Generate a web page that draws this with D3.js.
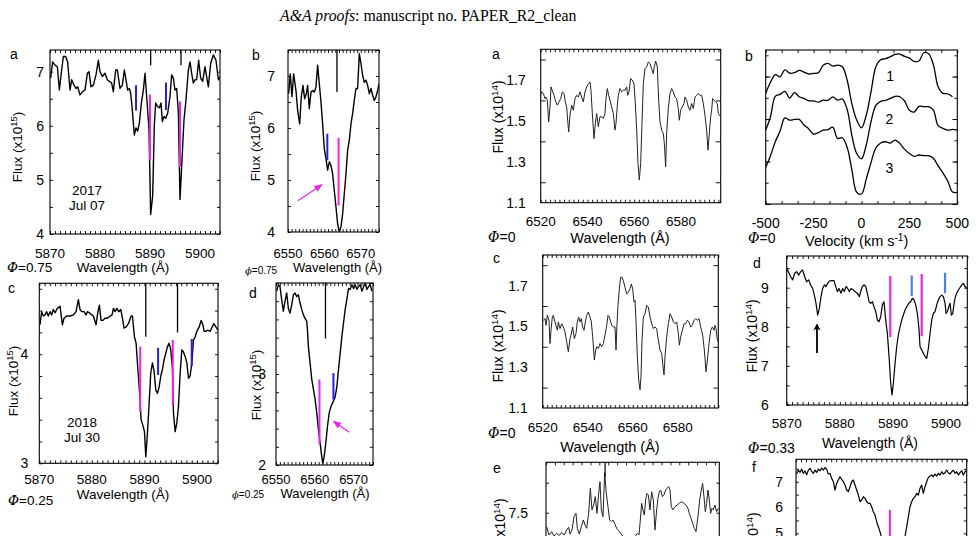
<!DOCTYPE html>
<html><head><meta charset="utf-8">
<script src="https://cdn.jsdelivr.net/npm/d3@7"></script>
<style>body{margin:0;background:#fff}svg{display:block}text{font-family:"Liberation Sans",Arial,sans-serif;fill:#000}</style>
</head><body>
<script>
// ---------------- DATA ----------------
// Left a: Na D, 2017 Jul 07 (wavelength A, flux x1e15)
const naD2017 = [[5870.13,6.88],[5870.53,7.18],[5871.0,7.12],[5871.47,7.09],[5871.87,6.66],[5872.33,7.03],[5872.67,7.28],[5873.13,7.28],[5873.53,7.18],[5874.0,6.66],[5874.33,6.85],[5874.8,6.75],[5875.2,6.69],[5875.53,6.72],[5876.0,6.57],[5876.53,6.63],[5877.0,6.66],[5877.47,6.97],[5877.8,7.0],[5878.2,6.72],[5878.67,6.75],[5879.2,6.94],[5879.67,7.21],[5880.0,7.0],[5880.47,6.91],[5881.0,6.97],[5881.47,6.85],[5881.87,6.82],[5882.33,6.79],[5882.67,6.63],[5883.13,7.03],[5883.47,7.03],[5884.0,6.69],[5884.47,6.75],[5884.87,7.03],[5885.2,6.85],[5885.53,6.66],[5885.87,6.69],[5886.13,6.6],[5886.4,6.36],[5886.87,5.83],[5887.2,5.96],[5887.53,5.9],[5887.87,6.05],[5888.27,6.42],[5888.67,6.66],[5889.0,6.97],[5889.33,6.54],[5889.8,5.93],[5890.13,4.36],[5890.53,4.7],[5890.87,6.02],[5891.13,6.42],[5891.47,6.36],[5891.87,6.33],[5892.2,6.42],[5892.47,6.08],[5892.8,6.17],[5893.13,6.14],[5893.53,6.23],[5894.0,6.54],[5894.33,6.94],[5894.67,6.88],[5895.0,6.66],[5895.33,6.69],[5895.67,6.26],[5896.0,4.64],[5896.4,5.37],[5896.8,6.11],[5897.2,6.48],[5897.67,7.03],[5898.0,7.18],[5898.33,6.97],[5898.67,6.79],[5899.0,6.85],[5899.33,6.85],[5899.73,7.21],[5900.13,6.88],[5900.53,6.82],[5901.0,7.09],[5901.67,6.72],[5902.13,7.15],[5902.67,7.31],[5903.2,7.21],[5903.67,6.85],[5904.0,6.9]];
// Left b: H-alpha 2017
const ha2017 = [[6550.17,6.66],[6550.63,7.04],[6551.09,6.6],[6551.55,7.04],[6552.19,6.72],[6552.65,6.34],[6553.2,6.08],[6553.65,6.6],[6554.11,6.82],[6554.57,6.56],[6555.03,6.66],[6555.39,6.82],[6555.85,6.37],[6556.31,6.69],[6556.77,6.72],[6557.23,6.69],[6557.68,6.79],[6558.14,7.21],[6558.6,6.85],[6559.06,6.5],[6559.51,6.08],[6559.97,5.6],[6560.43,5.41],[6560.89,5.19],[6561.35,5.35],[6561.8,5.28],[6562.26,5.12],[6562.72,4.8],[6563.18,4.48],[6563.64,4.15],[6564.09,4.0],[6564.55,4.1],[6565.01,4.35],[6565.47,4.74],[6565.93,5.12],[6566.38,5.57],[6566.84,5.76],[6567.3,6.08],[6567.76,6.28],[6568.21,6.53],[6568.67,6.76],[6569.13,6.76],[6569.59,7.43],[6570.05,7.24],[6570.5,7.01],[6570.96,6.88],[6571.42,6.92],[6571.88,6.82],[6572.34,6.66],[6572.79,6.76],[6573.25,6.63],[6573.71,6.53],[6574.17,6.6],[6574.62,6.72],[6575.0,6.85]];
// Left c: Na D, 2018 Jul 30
const naD2018 = [[5870.13,4.27],[5870.45,4.39],[5870.77,4.35],[5871.09,4.36],[5871.4,4.39],[5871.72,4.35],[5872.04,4.39],[5872.36,4.36],[5872.67,4.41],[5872.99,4.38],[5873.43,4.42],[5873.94,4.44],[5874.39,4.27],[5874.7,4.33],[5875.21,4.35],[5875.85,4.35],[5876.48,4.36],[5876.99,4.39],[5877.43,4.5],[5877.75,4.41],[5878.07,4.39],[5878.51,4.39],[5878.9,4.36],[5879.15,4.39],[5879.53,4.38],[5879.98,4.36],[5880.29,4.35],[5880.8,4.27],[5881.12,4.38],[5881.43,4.45],[5881.75,4.31],[5882.07,4.31],[5882.51,4.33],[5882.96,4.33],[5883.47,4.35],[5883.85,4.36],[5884.1,4.42],[5884.42,4.39],[5884.74,4.42],[5885.12,4.39],[5885.5,4.41],[5885.75,4.35],[5886.13,4.24],[5886.51,4.25],[5886.96,4.28],[5887.47,4.35],[5887.72,4.35],[5888.1,4.16],[5888.42,4.1],[5888.67,3.92],[5889.05,3.67],[5889.37,3.4],[5889.69,3.35],[5890.01,3.29],[5890.26,3.06],[5890.58,3.28],[5890.9,3.55],[5891.21,3.83],[5891.53,3.92],[5891.85,3.84],[5892.17,3.67],[5892.48,3.64],[5892.8,3.7],[5893.12,3.8],[5893.43,3.86],[5893.75,3.95],[5894.07,4.01],[5894.39,4.07],[5894.7,4.1],[5895.02,4.04],[5895.34,3.86],[5895.53,3.46],[5895.85,3.29],[5896.17,3.37],[5896.48,3.52],[5896.8,3.83],[5897.12,4.04],[5897.43,4.02],[5897.75,3.98],[5898.07,3.92],[5898.39,3.78],[5898.7,3.8],[5899.02,3.92],[5899.34,4.13],[5899.66,4.16],[5899.98,4.21],[5900.42,4.25],[5900.8,4.31],[5901.12,4.27],[5901.37,4.21],[5901.75,4.21],[5902.01,4.22],[5902.51,4.21],[5903.2,4.28],[5904.0,4.22]];
// Left d: H-alpha 2018
const ha2018 = [[6550.17,3.91],[6550.6,3.98],[6551.03,3.96],[6551.46,3.82],[6551.89,3.69],[6552.33,3.8],[6552.76,3.89],[6553.19,3.72],[6553.62,3.67],[6554.05,3.76],[6554.48,3.87],[6554.91,3.89],[6555.34,3.85],[6555.77,3.87],[6556.2,3.78],[6556.63,3.71],[6557.06,3.65],[6557.49,3.61],[6557.92,3.58],[6558.1,3.49],[6558.35,3.3],[6558.79,3.12],[6559.22,2.94],[6559.65,2.83],[6560.08,2.72],[6560.51,2.57],[6560.94,2.39],[6561.37,2.24],[6561.8,2.09],[6562.06,2.02],[6562.4,2.09],[6562.83,2.24],[6563.26,2.42],[6563.7,2.57],[6564.13,2.64],[6564.56,2.68],[6564.99,2.72],[6565.25,2.75],[6565.68,2.86],[6566.11,3.05],[6566.54,3.23],[6566.97,3.41],[6567.4,3.56],[6567.83,3.71],[6568.26,3.82],[6568.69,3.94],[6569.12,3.93],[6569.55,3.98],[6569.98,3.94],[6570.41,3.98],[6570.84,3.93],[6571.27,3.96],[6571.71,3.98],[6572.14,3.91],[6572.57,3.96],[6573.0,4.0],[6573.43,3.93],[6573.86,3.96],[6574.29,3.98],[6574.72,3.91]];
// Right a: H-alpha phase 0 (flux x1e14)
const haPhase0a = [[6520.0,1.625],[6520.4,1.642],[6521.13,1.634],[6521.84,1.609],[6522.27,1.617],[6522.84,1.601],[6523.41,1.495],[6523.98,1.568],[6524.41,1.666],[6525.12,1.642],[6525.69,1.625],[6526.4,1.593],[6527.11,1.577],[6527.83,1.593],[6528.54,1.609],[6529.25,1.642],[6529.97,1.634],[6530.54,1.593],[6531.11,1.568],[6531.54,1.503],[6531.96,1.446],[6532.53,1.528],[6533.25,1.577],[6533.96,1.552],[6534.67,1.609],[6535.38,1.625],[6536.1,1.617],[6536.81,1.642],[6537.52,1.617],[6538.23,1.593],[6538.95,1.642],[6539.66,1.666],[6540.37,1.682],[6541.09,1.69],[6541.51,1.65],[6542.08,1.536],[6542.8,1.414],[6543.37,1.487],[6543.94,1.536],[6544.65,1.471],[6545.36,1.52],[6546.08,1.52],[6546.79,1.512],[6547.5,1.536],[6547.93,1.609],[6548.5,1.658],[6549.07,1.625],[6549.64,1.601],[6550.35,1.568],[6551.07,1.536],[6551.78,1.455],[6552.21,1.487],[6552.78,1.577],[6553.2,1.625],[6553.92,1.658],[6554.63,1.642],[6555.34,1.65],[6556.06,1.65],[6556.77,1.666],[6557.2,1.625],[6557.77,1.642],[6558.48,1.707],[6559.19,1.699],[6559.91,1.682],[6560.48,1.585],[6561.05,1.455],[6561.62,1.292],[6562.19,1.211],[6562.76,1.292],[6563.33,1.487],[6563.9,1.682],[6564.61,1.755],[6565.32,1.764],[6566.04,1.788],[6566.75,1.78],[6567.46,1.755],[6568.17,1.731],[6568.6,1.764],[6569.17,1.793],[6569.88,1.764],[6570.46,1.601],[6571.03,1.495],[6571.74,1.455],[6572.45,1.438],[6572.88,1.39],[6573.45,1.276],[6573.88,1.438],[6574.59,1.56],[6575.3,1.634],[6576.02,1.658],[6576.73,1.642],[6577.44,1.617],[6578.16,1.609],[6578.87,1.56],[6579.29,1.503],[6579.87,1.552],[6580.58,1.568],[6581.29,1.585],[6581.72,1.617],[6582.43,1.601],[6583.14,1.568],[6583.86,1.552],[6584.57,1.585],[6585.28,1.56],[6586.0,1.617],[6586.71,1.625],[6587.42,1.634],[6588.14,1.625],[6588.85,1.625],[6589.56,1.585],[6590.27,1.528],[6590.99,1.455],[6591.56,1.357],[6592.13,1.438],[6592.7,1.52],[6593.13,1.552],[6593.55,1.609],[6594.12,1.601],[6594.84,1.593],[6595.55,1.585],[6595.98,1.536],[6596.4,1.528],[6597.0,1.52]];
// Right c: H-alpha phase 0, second spectrum
const haPhase0c = [[6520.28,1.53],[6521.02,1.538],[6521.47,1.505],[6522.06,1.554],[6522.8,1.53],[6523.24,1.416],[6523.69,1.481],[6524.28,1.546],[6524.72,1.554],[6525.46,1.522],[6525.91,1.505],[6526.5,1.481],[6526.94,1.522],[6527.69,1.489],[6528.43,1.513],[6529.17,1.497],[6529.91,1.473],[6530.65,1.424],[6531.39,1.376],[6532.13,1.44],[6532.57,1.457],[6533.31,1.497],[6534.05,1.44],[6534.79,1.465],[6535.38,1.522],[6535.98,1.546],[6536.57,1.522],[6537.16,1.538],[6537.76,1.497],[6538.35,1.481],[6538.94,1.522],[6539.53,1.554],[6540.27,1.57],[6541.01,1.546],[6541.6,1.522],[6542.2,1.449],[6542.94,1.335],[6543.53,1.384],[6543.98,1.4],[6544.71,1.392],[6545.46,1.416],[6546.2,1.4],[6546.93,1.416],[6547.68,1.457],[6548.42,1.505],[6549.01,1.554],[6549.6,1.546],[6550.2,1.522],[6550.79,1.505],[6551.38,1.497],[6552.12,1.497],[6552.56,1.384],[6553.01,1.513],[6553.45,1.603],[6554.04,1.684],[6554.64,1.741],[6555.23,1.741],[6555.82,1.724],[6556.56,1.692],[6557.3,1.659],[6558.04,1.668],[6558.78,1.684],[6559.37,1.708],[6559.97,1.684],[6560.56,1.619],[6561.0,1.627],[6561.45,1.522],[6562.04,1.351],[6562.63,1.238],[6563.23,1.189],[6563.67,1.254],[6564.11,1.432],[6564.71,1.546],[6565.45,1.562],[6566.19,1.603],[6566.93,1.595],[6567.67,1.546],[6568.41,1.513],[6569.15,1.489],[6569.89,1.497],[6570.63,1.489],[6571.37,1.432],[6572.11,1.384],[6572.85,1.368],[6573.3,1.319],[6573.89,1.262],[6574.33,1.351],[6575.07,1.449],[6575.81,1.513],[6576.55,1.562],[6577.29,1.546],[6578.03,1.522],[6578.77,1.513],[6579.52,1.522],[6580.25,1.465],[6580.7,1.408],[6581.29,1.449],[6582.03,1.481],[6582.77,1.513],[6583.51,1.513],[6584.25,1.53],[6584.99,1.522],[6585.74,1.497],[6586.47,1.505],[6587.21,1.53],[6587.96,1.538],[6588.69,1.53],[6589.44,1.538],[6590.18,1.497],[6591.07,1.457],[6591.8,1.384],[6592.55,1.278],[6593.14,1.335],[6593.88,1.416],[6594.62,1.481],[6595.36,1.497],[6596.1,1.481],[6596.54,1.505],[6596.99,1.489],[6597.58,1.432],[6598.0,1.424]];
// Right b: velocity profiles (km/s) and three offset normalized spectra
const velocity = [-500,-475,-450,-425,-400,-375,-350,-325,-300,-275,-250,-225,-200,-175,-150,-125,-100,-75,-50,-25,0,25,50,75,100,125,150,175,200,225,250,275,300,325,350,375,400,425,450,475,500];
const profile1 = [1.121,1.173,1.209,1.199,1.231,1.216,1.218,1.229,1.221,1.212,1.215,1.218,1.253,1.262,1.249,1.254,1.246,1.184,1.071,0.995,0.959,1.019,1.13,1.246,1.279,1.284,1.293,1.304,1.306,1.295,1.287,1.271,1.273,1.312,1.307,1.256,1.152,1.121,1.119,1.105,null];
const profile2 = [0.948,1.011,1.107,1.116,1.13,1.099,1.124,1.105,1.097,1.086,1.085,1.08,1.089,1.088,1.104,1.089,1.094,1.046,0.922,0.838,0.813,0.879,0.989,1.064,1.083,1.088,1.097,1.107,1.105,1.085,1.041,1.033,1.06,1.058,1.058,1.042,0.969,0.956,0.948,0.951,0.948];
const profile3 = [0.7725,0.8275,0.893,0.9435,1.005,0.995,0.998,0.998,0.972,0.953,0.929,0.936,0.948,0.95,0.962,0.909,0.912,0.867,0.76,0.655,0.647,0.718,0.796,0.8635,0.887,0.893,0.887,0.901,0.8855,0.857,0.838,0.824,0.8306,0.8275,0.8275,0.815,0.779,0.746,0.708,0.6565,0.655];
const profileLabels = ["1","2","3"];
const profileLabelPos = [[150,1.2],[145,1.0],[145,0.77]];
// Right d: Na D phase 0.33 (flux x1e14)
const naDPhase033 = [[5870.0,9.5],[5870.31,9.41],[5870.75,9.28],[5871.12,9.2],[5871.5,9.37],[5871.88,9.41],[5872.25,9.32],[5872.63,9.41],[5873.01,9.45],[5873.38,9.28],[5873.76,9.15],[5874.14,9.2],[5874.51,9.07],[5874.89,8.98],[5875.2,8.81],[5875.52,8.6],[5875.83,8.3],[5876.15,8.47],[5876.46,8.77],[5876.77,8.98],[5877.09,9.07],[5877.4,9.03],[5877.72,9.11],[5878.03,9.17],[5878.47,9.18],[5878.91,9.18],[5879.22,9.03],[5879.54,8.9],[5879.85,8.98],[5880.23,8.86],[5880.54,8.98],[5880.85,8.9],[5881.17,9.03],[5881.48,8.98],[5881.79,8.9],[5882.11,8.98],[5882.55,8.94],[5882.86,8.9],[5883.3,8.86],[5883.68,8.77],[5883.93,8.9],[5884.24,9.03],[5884.56,9.07],[5884.87,9.03],[5885.18,8.86],[5885.5,8.64],[5885.81,8.6],[5886.13,8.64],[5886.44,8.51],[5886.76,8.39],[5887.07,8.17],[5887.38,8.13],[5887.7,8.26],[5888.01,8.56],[5888.32,8.64],[5888.64,8.17],[5888.95,7.83],[5889.27,7.24],[5889.58,6.55],[5889.83,6.26],[5890.08,6.55],[5890.4,7.07],[5890.71,7.49],[5891.02,7.79],[5891.34,8.0],[5891.65,8.17],[5891.96,8.3],[5892.28,8.43],[5892.59,8.51],[5892.97,8.6],[5893.35,8.64],[5893.66,8.73],[5893.97,8.69],[5894.29,8.56],[5894.6,8.34],[5894.92,7.92],[5895.1,7.49],[5895.42,7.41],[5895.73,7.32],[5896.05,7.24],[5896.36,7.19],[5896.67,7.45],[5896.99,7.83],[5897.3,8.17],[5897.61,8.34],[5897.93,8.39],[5898.24,8.56],[5898.56,8.69],[5898.87,8.77],[5899.18,8.81],[5899.5,8.77],[5899.81,8.6],[5900.0,8.34],[5900.25,8.39],[5900.5,8.51],[5900.75,8.6],[5901.0,8.3],[5901.26,8.34],[5901.51,8.6],[5901.76,8.77],[5902.13,8.9],[5902.51,8.98],[5902.95,9.07],[5903.26,9.11],[5903.58,9.03],[5903.89,8.98]];
// Right e (partly visible)
const panelE = [[6520.3,7.384],[6521.35,7.314],[6522.55,7.342],[6523.6,7.306],[6524.8,7.328],[6526.0,7.311],[6527.05,7.334],[6528.25,7.314],[6529.3,7.356],[6530.2,7.378],[6530.8,7.322],[6531.7,7.356],[6532.6,7.467],[6533.5,7.495],[6534.1,7.37],[6535.0,7.322],[6535.9,7.384],[6536.8,7.439],[6537.55,7.398],[6538.3,7.37],[6539.2,7.495],[6539.95,7.703],[6540.7,7.523],[6541.45,7.564],[6542.2,7.634],[6542.95,7.495],[6543.7,7.661],[6544.3,7.759],[6544.9,7.523],[6545.65,7.467],[6546.4,7.834],[6547.15,7.661],[6547.9,7.55],[6548.65,7.439],[6549.4,7.425],[6550.15,7.439],[6550.9,7.411],[6551.8,7.37],[6552.7,7.35],[6553.6,7.328],[6554.5,7.306],[6555.55,7.286],[6556.6,7.272],[6557.8,7.272],[6559.0,7.286],[6560.05,7.3],[6561.1,7.328],[6561.85,7.314],[6562.45,7.439],[6563.05,7.578],[6563.65,7.523],[6564.25,7.481],[6564.85,7.606],[6565.45,7.661],[6566.05,7.648],[6566.8,7.523],[6567.55,7.675],[6568.3,7.606],[6569.05,7.356],[6569.8,7.523],[6570.4,7.62],[6571.0,7.675],[6571.6,7.689],[6572.35,7.634],[6573.1,7.648],[6573.86,7.689],[6574.46,7.703],[6575.21,7.717],[6575.81,7.689],[6576.4,7.55],[6577.16,7.523],[6578.06,7.55],[6579.1,7.564],[6580.0,7.578],[6581.06,7.592],[6582.1,7.578],[6583.0,7.564],[6583.9,7.536],[6584.5,7.495],[6585.26,7.453],[6586.0,7.411],[6586.76,7.37],[6587.5,7.342],[6588.4,7.467],[6589.16,7.606],[6589.9,7.689],[6590.5,7.745],[6591.1,7.634],[6591.7,7.509],[6592.3,7.578],[6592.9,7.689],[6593.5,7.606],[6594.1,7.495],[6594.7,7.536],[6595.3,7.523],[6596.05,7.564],[6596.8,7.509],[6597.55,7.536]];
// Right f (partly visible)
const panelF = [[5870.13,7.3],[5870.46,7.45],[5870.8,7.36],[5871.13,7.49],[5871.46,7.32],[5871.79,7.42],[5872.13,7.27],[5872.46,7.45],[5872.79,7.52],[5873.12,7.4],[5873.45,7.32],[5873.78,7.45],[5874.12,7.36],[5874.45,7.49],[5874.78,7.42],[5875.11,7.53],[5875.44,7.45],[5875.78,7.55],[5876.11,7.49],[5876.44,7.3],[5876.77,7.32],[5877.11,7.131],[5877.44,7.001],[5877.77,6.678],[5878.1,6.937],[5878.43,7.066],[5878.76,7.195],[5879.1,7.092],[5879.43,7.001],[5879.76,6.872],[5880.09,6.678],[5880.42,6.614],[5880.76,6.807],[5881.09,7.001],[5881.42,7.066],[5881.75,6.872],[5882.08,6.678],[5882.42,6.484],[5882.75,6.226],[5883.08,6.291],[5883.41,6.42],[5883.75,6.355],[5884.08,6.226],[5884.41,6.162],[5884.74,6.162],[5885.07,6.032],[5885.4,5.838],[5885.74,5.709],[5886.07,5.451],[5886.4,5.257],[5886.73,5.063],[5887.07,4.805],[5887.4,4.547],[5887.73,4.288],[5888.4,3.8],[5889.5,3.5],[5890.5,3.8],[5891.05,4.224],[5891.38,4.482],[5891.71,4.869],[5892.05,5.257],[5892.38,5.645],[5892.71,6.032],[5893.04,6.226],[5893.37,6.355],[5893.71,6.42],[5894.04,6.549],[5894.37,6.484],[5894.7,6.743],[5895.03,6.872],[5895.36,6.549],[5895.7,6.807],[5896.03,7.001],[5896.36,7.169],[5896.69,7.221],[5897.03,7.26],[5897.36,7.195],[5897.69,7.298],[5898.02,7.221],[5898.35,7.324],[5898.69,7.26],[5899.02,7.389],[5899.35,7.298],[5899.68,7.35],[5900.01,7.453],[5900.34,7.35],[5900.68,7.298],[5901.01,7.389],[5901.34,7.453],[5901.67,7.324],[5902.0,7.389],[5902.34,7.26],[5902.67,7.35],[5903.0,7.428],[5903.33,7.26],[5903.67,7.389],[5904.0,7.453]];

// vertical marker lines [wavelength, top value, bottom value]
const sticksA = [[5890.13,7.4,7.12],[5896.2,7.4,7.12]];
const magentaA = [[5890.0,6.58,5.37],[5896.0,6.45,5.24]];
const blueA = [[5887.2,6.75,6.28],[5893.2,6.8,6.29]];
const sticksB = [[6563.45,7.5,6.69]];
const magentaB = [[6563.9,5.81,4.51]];
const blueB = [[6560.8,5.89,5.38]];
const arrowB = [[6552.7,4.6],[6559.3,4.91]];
const sticksC = [[5890.26,4.65,4.16],[5896.3,4.65,4.2]];
const magentaC = [[5889.2,4.07,3.47],[5895.4,4.13,3.53]];
const blueC = [[5892.6,4.06,3.81],[5899.0,4.14,3.89]];
const sticksD = [[6562.75,4.0,3.39]];
const magentaD = [[6561.2,2.94,2.23]];
const blueD = [[6564.8,3.01,2.72]];
const arrowD = [[6568.86,2.36],[6564.81,2.48]];
const magentaRD = [[5889.5,9.3,7.74],[5895.42,9.35,7.76]];
const blueRD = [[5893.54,9.31,8.79],[5899.81,9.38,8.86]];
const arrowRD = [[5875.7,7.33],[5875.7,8.05]];
const sticksE = [[6546.6,7.92,7.8]];
const magentaF = [[5888.7,5.9,1.0]];

// tick labels
const naTicks = [5870,5880,5890,5900];
const haTicks = [6550,6560,6570];
const haWideTicks = [6520,6540,6560,6580];
const velTicks = [-500,-250,0,250,500];

// ---------------- DRAWING ----------------
const svg = d3.select('body').append('svg').attr('width',977).attr('height',536);
const defs = svg.append('defs');
defs.append('marker').attr('id','mArr').attr('viewBox','0 0 10 10').attr('refX',9).attr('refY',5)
  .attr('markerWidth',7).attr('markerHeight',7).attr('orient','auto-start-reverse')
  .append('path').attr('d','M0,1 L10,5 L0,9 z').attr('fill','#ee22ee');
defs.append('marker').attr('id','kArr').attr('viewBox','0 0 10 10').attr('refX',8).attr('refY',5)
  .attr('markerWidth',4).attr('markerHeight',4).attr('orient','auto')
  .append('path').attr('d','M0,0 L10,5 L0,10 L3,5 z').attr('fill','#000');
let clipN = 0;

function rng(a,b,s){const o=[];const n0=Math.ceil(a/s-1e-6);const n1=Math.floor(b/s+1e-6);for(let n=n0;n<=n1;n++)o.push(+(n*s).toFixed(6));return o;}

function panel(c){
  const x = d3.scaleLinear().domain(c.xd).range([c.l,c.r]);
  const y = d3.scaleLinear().domain(c.yd).range([c.b,c.t]);
  const g = svg.append('g');
  const id = 'cp'+(clipN++);
  defs.append('clipPath').attr('id',id).append('rect').attr('x',c.l).attr('y',c.t).attr('width',c.r-c.l).attr('height',c.b-c.t);
  const tick=(axis,scale,vals,size,tx,ty)=>{
    g.append('g').attr('transform',`translate(${tx},${ty})`)
     .call(axis(scale).tickValues(vals).tickSize(size).tickFormat(''))
     .call(s=>{s.select('.domain').remove();s.selectAll('line').attr('stroke','#000').attr('stroke-width',0.9);});
  };
  if(c.xMinor){const v=rng(c.xd[0],c.xd[1],c.xMinor);tick(d3.axisBottom,x,v,-3,0,c.b);tick(d3.axisTop,x,v,-3,0,c.t);}
  if(c.yMinor){const v=rng(c.yd[0],c.yd[1],c.yMinor);tick(d3.axisLeft,y,v,-3,c.l,0);tick(d3.axisRight,y,v,-3,c.r,0);}
  if(c.yMajor){const v=rng(c.yd[0],c.yd[1],c.yMajor);tick(d3.axisLeft,y,v,-5,c.l,0);tick(d3.axisRight,y,v,-5,c.r,0);}
  g.append('rect').attr('x',c.l).attr('y',c.t).attr('width',c.r-c.l).attr('height',c.b-c.t)
    .attr('fill','none').attr('stroke','#000').attr('stroke-width',1.1);
  if(c.xLabels) g.selectAll(null).data(c.xLabels).enter().append('text')
    .attr('x',d=>x(d)).attr('y',c.b+c.xlo).attr('dy','0.35em').attr('text-anchor','middle')
    .style('font-size',c.xfs+'px').text(d=>d);
  if(c.yLabels) g.selectAll(null).data(c.yLabels).enter().append('text')
    .attr('x',c.l-c.ylo).attr('y',d=>y(d)).attr('dy','0.35em').attr('text-anchor','end')
    .style('font-size',c.yfs+'px').text(d=>c.yfmt?c.yfmt(d):d);
  return {x,y,g,clip:`url(#${id})`};
}
function curve(p,data,opt){
  opt=opt||{};
  p.g.append('path').datum(data).attr('clip-path',p.clip)
    .attr('d',d3.line().defined(d=>d[1]!=null).x(d=>p.x(d[0])).y(d=>p.y(d[1])).curve(opt.curve||d3.curveLinear))
    .attr('fill','none').attr('stroke',opt.color||'#000').attr('stroke-width',opt.w||1.4).attr('stroke-linejoin','round');
}
function vlines(p,data,color,w){
  p.g.selectAll(null).data(data).enter().append('line').attr('clip-path',p.clip)
    .attr('x1',d=>p.x(d[0])).attr('x2',d=>p.x(d[0])).attr('y1',d=>p.y(d[1])).attr('y2',d=>p.y(d[2]))
    .attr('stroke',color).attr('stroke-width',w);
}
function arrow(p,data,color,w,marker){
  p.g.append('line').attr('x1',p.x(data[0][0])).attr('y1',p.y(data[0][1])).attr('x2',p.x(data[1][0])).attr('y2',p.y(data[1][1]))
    .attr('stroke',color).attr('stroke-width',w).attr('marker-end',`url(#${marker})`);
}
function text(x,y,s,o){
  o=o||{};
  const t=svg.append('text').attr('x',x).attr('y',y).attr('dy',o.dy||'0.35em').attr('text-anchor',o.anchor||'start')
    .style('font-size',(o.fs||13)+'px');
  if(o.family) t.style('font-family',o.family);
  if(o.rotate) t.attr('transform',`rotate(-90,${x},${y})`);
  if(s) t.text(s);
  return t;
}
function fluxTitle(x,y,exp,fs){
  const t=text(x,y,'',{anchor:'middle',fs:fs,rotate:true});
  t.append('tspan').text('Flux (x10');
  t.append('tspan').attr('baseline-shift','super').style('font-size',(fs*0.7)+'px').text(exp);
  t.append('tspan').text(')');
}
function phase(x,y,val,fs,small){
  const t=text(x,y,'',{fs:fs});
  t.append('tspan').style('font-style','italic').style('font-family','"DejaVu Serif",serif').text(small?'ϕ':'Φ');
  t.append('tspan').text('='+val);
}
const MAG='#ee22ee', BLU='#2222dd', LBLU='#4f80e6';

// Header
{
  const t=text(280,15,'',{fs:15.8,family:'"Liberation Serif","Times New Roman",serif'});
  t.append('tspan').style('font-style','italic').text('A&A proofs');
  t.append('tspan').text(': manuscript no. PAPER_R2_clean');
}

// ---- Left a
const pA = panel({l:50,r:220,t:50,b:234,xd:[5870,5904],yd:[4,7.4],xMinor:1,yMinor:0.5,
  xLabels:naTicks,xlo:19,xfs:13.5,yLabels:[4,5,6,7],ylo:6,yfs:14});
curve(pA,naD2017);
vlines(pA,sticksA,'#000',1.3); vlines(pA,magentaA,MAG,2); vlines(pA,blueA,BLU,2);
text(10,54,'a',{fs:14}); fluxTitle(17,147,'15',13.5);
text(87,190,'2017',{anchor:'middle',fs:13.5}); text(87,205,'Jul 07',{anchor:'middle',fs:13.5});
phase(7,267,'0.75',13.5); text(123,267,'Wavelength (Å)',{anchor:'middle',fs:13.5});

// ---- Left b
const pB = panel({l:288,r:379,t:50,b:232,xd:[6550,6575],yd:[4,7.5],xMinor:1,yMinor:0.5,
  xLabels:haTicks,xlo:21,xfs:13,yLabels:[4,5,6,7],ylo:13,yfs:14});
curve(pB,ha2017);
vlines(pB,sticksB,'#000',1.3); vlines(pB,blueB,BLU,2); vlines(pB,magentaB,MAG,2);
arrow(pB,arrowB,MAG,1.2,'mArr');
text(252,55,'b',{fs:14}); fluxTitle(255,146,'15',13.5);
phase(245,270,'0.75',10,true); text(293,267,'Wavelength (Å)',{fs:13});

// ---- Left c
const pC = panel({l:39.3,r:218,t:283.3,b:463.3,xd:[5870,5904],yd:[3,4.65],xMinor:1,yMinor:0.2,
  xLabels:naTicks,xlo:16,xfs:13.5,yLabels:[3,4],ylo:11,yfs:14});
curve(pC,naD2018);
vlines(pC,sticksC,'#000',1.3); vlines(pC,magentaC,MAG,2); vlines(pC,blueC,BLU,2);
text(8,288,'c',{fs:14}); fluxTitle(13,381,'15',13.5);
text(82,422,'2018',{anchor:'middle',fs:13.5}); text(82,437,'Jul 30',{anchor:'middle',fs:13.5});
phase(8,500,'0.25',13.5); text(123,494,'Wavelength (Å)',{anchor:'middle',fs:13.5});

// ---- Left d
const pD = panel({l:276,r:373,t:283,b:465,xd:[6550,6575],yd:[2,4],xMinor:1,yMinor:0.2,
  xLabels:haTicks,xlo:14,xfs:13,yLabels:[2,3],ylo:10,yfs:14});
curve(pD,ha2018);
vlines(pD,sticksD,'#000',1.3); vlines(pD,magentaD,MAG,2); vlines(pD,blueD,BLU,2);
arrow(pD,arrowD,MAG,1.2,'mArr');
text(249,293,'d',{fs:14}); fluxTitle(256,385,'15',13.5);
phase(232,494,'0.25',10,true); text(325,493,'Wavelength (Å)',{anchor:'middle',fs:13});

// ---- Right a
const pRA = panel({l:540.7,r:720.7,t:49.3,b:202.7,xd:[6520,6597],yd:[1.1,1.85],xMinor:2,yMajor:0.2,
  xLabels:haWideTicks,xlo:19,xfs:13.5,yLabels:[1.1,1.3,1.5,1.7],ylo:15,yfs:14,yfmt:d3.format('.1f')});
curve(pRA,haPhase0a,{w:1,color:'#222'});
text(492,54,'a',{fs:14}); fluxTitle(498,117,'14',14);
phase(488,237,'0',14); text(620,238,'Wavelength (Å)',{anchor:'middle',fs:14.5});

// ---- Right b
const pRB = panel({l:765.7,r:957.3,t:50,b:204,xd:[-500,500],yd:[0.6,1.325],xMinor:250/3,yMinor:0.1,yMajor:0.2,
  xLabels:velTicks,xlo:19,xfs:14});
const vp = (arr)=>velocity.map((v,i)=>[v,arr[i]]);
curve(pRB,vp(profile1),{w:1.3,curve:d3.curveCatmullRom});
curve(pRB,vp(profile2),{w:1.3,curve:d3.curveCatmullRom});
curve(pRB,vp(profile3),{w:1.3,curve:d3.curveCatmullRom});
pRB.g.selectAll(null).data(profileLabels).enter().append('text')
  .attr('x',(d,i)=>pRB.x(profileLabelPos[i][0])).attr('y',(d,i)=>pRB.y(profileLabelPos[i][1]))
  .attr('dy','0.35em').attr('text-anchor','middle').style('font-size','14px').text(d=>d);
text(745,56,'b',{fs:14});
phase(748,238,'0',14);
{
  const t=text(856.7,241,'',{anchor:'middle',fs:14.5});
  t.append('tspan').text('Velocity (km s');
  t.append('tspan').attr('baseline-shift','super').style('font-size','10px').text('-1');
  t.append('tspan').text(')');
}

// ---- Right c
const pRC = panel({l:542.7,r:718.3,t:255,b:408,xd:[6520,6598],yd:[1.1,1.85],xMinor:2,yMajor:0.2,
  xLabels:haWideTicks,xlo:19,xfs:13.5,yLabels:[1.1,1.3,1.5,1.7],ylo:15,yfs:14,yfmt:d3.format('.1f')});
curve(pRC,haPhase0c,{w:1,color:'#222'});
text(493,258,'c',{fs:14}); fluxTitle(498,346,'14',14);
phase(488,433,'0',14); text(610,447,'Wavelength (Å)',{anchor:'middle',fs:14.5});

// ---- Right d
const pRD = panel({l:786.7,r:967.3,t:256,b:405,xd:[5870,5904],yd:[6,9.81],xMinor:1,yMinor:0.5,
  xLabels:naTicks,xlo:18,xfs:13.5,yLabels:[6,7,8,9],ylo:18,yfs:14});
curve(pRD,naDPhase033,{w:1.2});
vlines(pRD,magentaRD,MAG,2.2); vlines(pRD,blueRD,LBLU,2.2);
arrow(pRD,arrowRD,'#000',1.8,'kArr');
text(753,263,'d',{fs:14}); fluxTitle(752.5,336,'14',14);
phase(748,448,'0.33',14); text(870,443,'Wavelength (Å)',{anchor:'middle',fs:14});

// ---- Right e
const pRE = panel({l:546,r:719.3,t:462.3,b:632.7,xd:[6520,6598],yd:[6.5,7.92],xMinor:4,yMinor:0.25,
  yLabels:[7.5],ylo:18,yfs:14,yfmt:d3.format('.1f')});
curve(pRE,panelE,{w:1,color:'#222'});
vlines(pRE,sticksE,'#000',1.2);
text(493,468,'e',{fs:14}); fluxTitle(500,535,'14',14);

// ---- Right f
const pRF = panel({l:796,r:966.7,t:459.3,b:636.5,xd:[5870,5904],yd:[1,7.87],xMinor:1,yMinor:0.5,
  yLabels:[5,6,7],ylo:13,yfs:14});
curve(pRF,panelF,{w:1.2});
vlines(pRF,magentaF,MAG,2);
text(752,467,'f',{fs:14}); fluxTitle(753,549,'14',14);
</script>
</body></html>
